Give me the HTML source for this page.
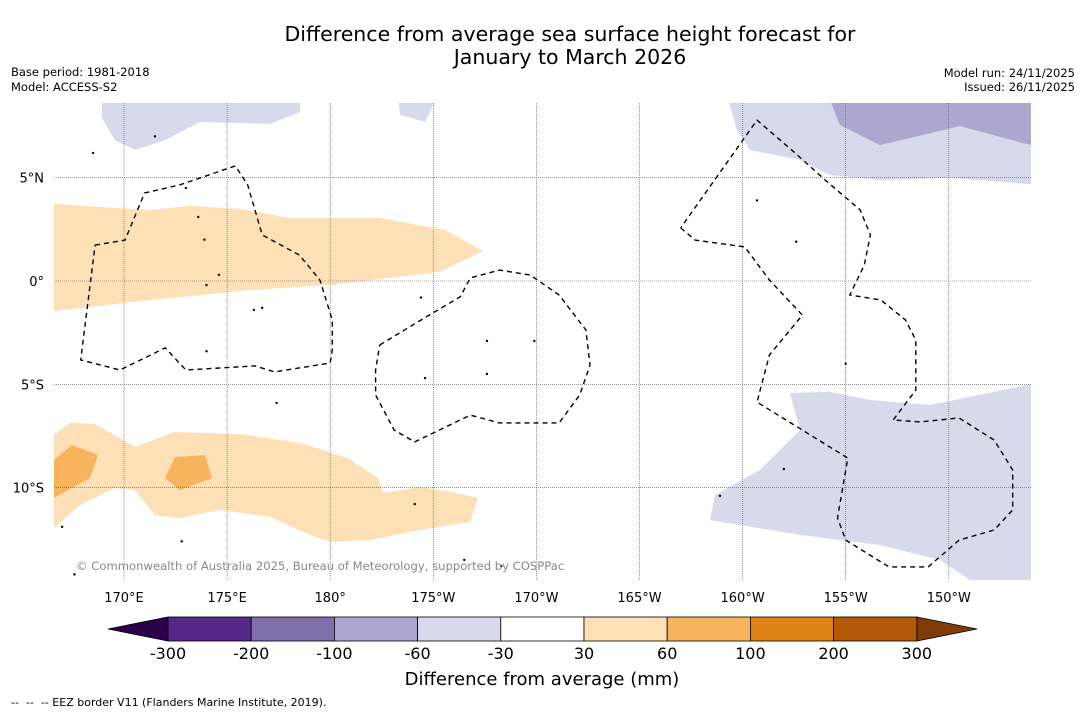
<!DOCTYPE html>
<html><head><meta charset="utf-8">
<style>
body{margin:0;background:#fff;width:1085px;height:713px;overflow:hidden;font-family:"Liberation Sans","DejaVu Sans",sans-serif;}
svg text{font-family:"DejaVu Sans","Liberation Sans",sans-serif;}
</style></head>
<body>
<svg id="chart" width="1085" height="713" xmlns="http://www.w3.org/2000/svg">
<rect width="1085" height="713" fill="#fff"/>
<text x="570" y="41" font-size="20.5" text-anchor="middle">Difference from average sea surface height forecast for</text>
<text x="570" y="64" font-size="20.5" text-anchor="middle">January to March 2026</text>
<text x="11" y="76" font-size="11.5">Base period: 1981-2018</text>
<text x="11" y="91" font-size="11.5">Model: ACCESS-S2</text>
<text x="1075" y="77" font-size="11.5" text-anchor="end">Model run: 24/11/2025</text>
<text x="1075" y="91" font-size="11.5" text-anchor="end">Issued: 26/11/2025</text>
<defs><clipPath id="mc"><rect x="54" y="103" width="977" height="477"/></clipPath></defs>
<g id="map" clip-path="url(#mc)"></g>
<text x="76" y="570" font-size="11.6" fill="#888">© Commonwealth of Australia 2025, Bureau of Meteorology, supported by COSPPac</text>
<g id="axes"></g>
<g id="cbar"></g>
<text x="542" y="685" font-size="18" text-anchor="middle">Difference from average (mm)</text>
<text x="11" y="706" font-size="11" style="white-space:pre">--  --  -- EEZ border V11 (Flanders Marine Institute, 2019).</text>
</svg>
<script>
const lonTicks=[170,175,180,185,190,195,200,205,210];
const lonLabels=["170°E","175°E","180°","175°W","170°W","165°W","160°W","155°W","150°W"];
const latTicks=[5,0,-5,-10];
const latLabels=["5°N","0°","5°S","10°S"];
const cbBounds=[-300,-200,-100,-60,-30,30,60,100,200,300];
const cbColors=["#542788","#7f6fab","#ada6cf","#d8d9ea","#ffffff","#fde0b6","#f8b45d","#e08214","#b35806"];
const cbUnder="#2d004b", cbOver="#7f3b08";
const orangeLight=[[[166.6,3.73],[168.84,3.58],[171.26,3.44],[173.2,3.63],[175.63,3.49],[178.05,3.05],[182.42,3.05],[185.57,2.47],[187.41,1.45],[185.33,0.44],[180,-0.19],[176.11,-0.44],[171.26,-0.92],[166.6,-1.45]],
[[166.6,-7.45],[167.38,-6.87],[168.59,-6.92],[170.53,-8.03],[172.47,-7.31],[175.63,-7.41],[178.54,-7.84],[180.86,-8.57],[182.32,-9.54],[182.56,-10.26],[184.35,-9.97],[185.81,-10.21],[187.17,-10.5],[186.78,-11.66],[184.35,-12.05],[181.93,-12.54],[180,-12.63],[179.02,-12.29],[177.08,-11.42],[174.66,-11.08],[172.72,-11.47],[171.5,-11.33],[170.53,-10.12],[169.56,-10.02],[167.87,-10.84],[166.6,-11.96]]];
const orangeMid=[[[166.6,-8.66],[167.48,-7.94],[168.74,-8.42],[168.35,-9.54],[166.6,-10.5]],
[[172.47,-8.52],[173.93,-8.42],[174.27,-9.54],[172.72,-10.12],[171.99,-9.54]]];
const purpleLight=[[[168.93,9],[178.54,9],[178.54,8.18],[177.08,7.6],[173.69,7.7],[171.99,6.82],[170.53,6.34],[169.56,6.82],[168.93,7.89]],
[[183.29,9],[185.23,9],[184.6,7.7],[183.39,8.04]],
[[191.0,9],[193.91,9],[192.6,8.62]],
[[199.24,9],[214.5,9],[214.5,4.65],[210.06,4.99],[206.66,4.89],[204.24,5.13],[202.78,5.86],[200.36,6.34],[199.73,7.31]],
[[202.3,-5.42],[204.24,-5.37],[206.18,-5.76],[209.09,-6.0],[214.5,-4.89],[214.5,-15],[211.03,-14.47],[209.57,-13.5],[206.66,-12.78],[202.78,-12.29],[198.42,-11.57],[198.66,-10.36],[200.84,-9.15],[202.78,-7.21]]];
const purpleMid=[[[204.14,9],[214.5,9],[214.5,6.44],[210.54,7.5],[206.66,6.58],[204.72,7.55]]];
const eez=[[[168.6,1.74],[170.05,1.98],[171.0,4.26],[172.7,4.65],[175.4,5.57],[176.0,4.65],[176.7,2.23],[178.5,1.26],[179.5,0.05],[180.1,-1.89],[180.1,-3.34],[180.0,-3.97],[177.3,-4.4],[176.35,-4.11],[173.0,-4.31],[172.0,-3.24],[169.8,-4.31],[167.9,-3.82],[168.6,1.74]],
[[182.4,-3.1],[184.8,-1.65],[186.3,-0.77],[186.8,0.15],[188.2,0.53],[189.7,0.29],[191.1,-0.68],[192.4,-2.37],[192.6,-4.07],[192.1,-5.52],[191.1,-6.87],[188.2,-6.87],[186.8,-6.49],[184.1,-7.79],[183.1,-7.21],[182.2,-5.52],[182.2,-4.31],[182.4,-3.1]],
[[197.0,2.57],[197.7,1.98],[200.1,1.65],[201.3,0.05],[202.9,-1.65],[201.3,-3.58],[200.7,-5.86],[205.1,-8.57],[204.6,-11.47],[205.0,-12.54],[207.1,-13.84],[209.0,-13.84],[210.5,-12.54],[212.2,-12.05],[213.1,-11.08],[213.1,-9.15],[212.2,-7.7],[210.5,-6.63],[208.6,-6.82],[207.3,-6.73],[208.4,-5.28],[208.4,-2.86],[207.9,-1.89],[206.7,-0.92],[205.2,-0.68],[205.9,0.77],[206.2,2.23],[205.7,3.44],[204.0,4.89],[202.5,6.24],[200.7,7.79],[197.0,2.57]]];
const islands=[[168.5,6.2],[171.5,7.0],[173.0,4.5],[173.6,3.1],[173.9,2.0],[174.6,0.3],[174.0,-0.2],[176.3,-1.4],[176.7,-1.3],[184.4,-0.8],[187.6,-2.9],[184.6,-4.7],[187.6,-4.5],[189.9,-2.9],[200.7,3.9],[202.6,1.9],[205.0,-4.0],[202.0,-9.1],[198.9,-10.4],[188.3,-13.8],[186.5,-13.5],[172.8,-12.6],[167.6,-14.2],[167.0,-11.9],[174.0,-3.4],[184.1,-10.8],[177.4,-5.9]];
const NS="http://www.w3.org/2000/svg";
const X=lon=>124+(lon-170)*20.62;
const Y=lat=>281-lat*20.66;
function mk(tag,attrs,parent){const e=document.createElementNS(NS,tag);for(const k in attrs)e.setAttribute(k,attrs[k]);parent.appendChild(e);return e;}
const map=document.getElementById('map');
const pts=p=>p.map(q=>X(q[0]).toFixed(1)+','+Y(q[1]).toFixed(1)).join(' ');
function fill(list,color,name){list.forEach(p=>{const e=mk('polygon',{points:pts(p),fill:color,stroke:'none'},map);

});}
fill(purpleLight,cbColors[3],'anomaly-region-minus60');
fill(purpleMid,cbColors[2],'anomaly-region-minus100');
fill(orangeLight,cbColors[5],'anomaly-region-plus30');
fill(orangeMid,cbColors[6],'anomaly-region-plus60');
lonTicks.forEach((l,i)=>{const g=mk('line',{x1:X(l),x2:X(l),y1:103,y2:580,stroke:'#555','stroke-width':0.6,'stroke-dasharray':'1,1'},map);

});
latTicks.forEach(l=>{const g=mk('line',{x1:54,x2:1031,y1:Y(l),y2:Y(l),stroke:'#555','stroke-width':0.6,'stroke-dasharray':'1,1'},map);

});
eez.forEach(p=>{const e=mk('polyline',{points:pts(p),fill:'none',stroke:'#000','stroke-width':1.4,'stroke-dasharray':'5,4'},map);

});
islands.forEach(p=>{const e=mk('circle',{cx:X(p[0]),cy:Y(p[1]),r:1.2,fill:'#000'},map);

});
const axes=document.getElementById('axes');
lonTicks.forEach((l,i)=>{const t=mk('text',{x:X(l),y:602,'font-size':13,'text-anchor':'middle'},axes);t.textContent=lonLabels[i];

});
latTicks.forEach((l,i)=>{const t=mk('text',{x:44,y:Y(l)+5,'font-size':13,'text-anchor':'end'},axes);t.textContent=latLabels[i];

});
const cb=document.getElementById('cbar');
const cx0=168,cw=83.2,cy=617,ch=24;
const u=mk('polygon',{points:`108,${cy+ch/2} ${cx0},${cy} ${cx0},${cy+ch}`,fill:cbUnder,stroke:'#000','stroke-width':0.8},cb);


const xe=cx0+cw*cbColors.length;
const o=mk('polygon',{points:`${xe},${cy} 977,${cy+ch/2} ${xe},${cy+ch}`,fill:cbOver,stroke:'#000','stroke-width':0.8},cb);


cbColors.forEach((c,i)=>{const r=mk('rect',{x:cx0+i*cw,y:cy,width:cw,height:ch,fill:c,stroke:'#000','stroke-width':0.8},cb);

});
cbBounds.forEach((b,i)=>{const t=mk('text',{x:cx0+i*cw,y:659,'font-size':16,'text-anchor':'middle'},cb);t.textContent=b;

});
</script>
</body></html>
